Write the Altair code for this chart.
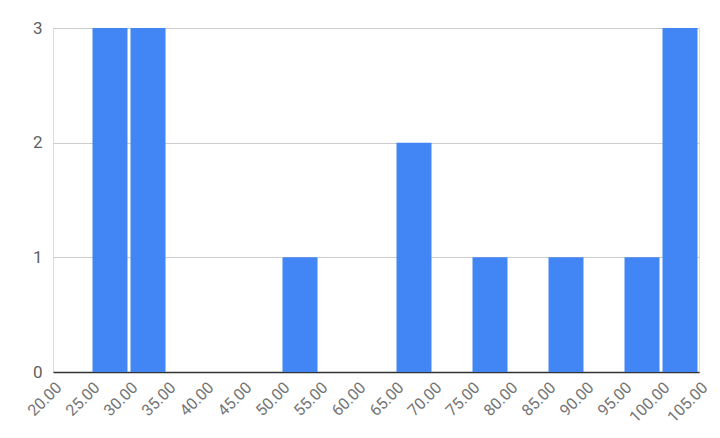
import altair as alt
import pandas as pd

bin_start = [25, 30, 50, 65, 75, 85, 95, 100]
bin_end = [30, 35, 55, 70, 80, 90, 100, 105]
counts = [3, 3, 1, 2, 1, 1, 1, 3]
x_ticks = list(range(20, 106, 5))
y_ticks = [0, 1, 2, 3]

df = pd.DataFrame({"start": bin_start, "end": bin_end, "count": counts})

bars = alt.Chart(df).mark_rect(color="#4285F4", xOffset=1.5, x2Offset=-1.5).encode(
    x=alt.X("start:Q", scale=alt.Scale(domain=[20, 105], nice=False, zero=False),
            axis=alt.Axis(values=x_ticks, format=".2f", labelAngle=-45, title=None,
                          grid=False, ticks=False, domain=True, domainColor="#333333",
                          domainWidth=1.5, labelColor="#757575", labelFont="Roboto",
                          labelFontSize=16, labelPadding=7, labelOverlap=False)),
    x2="end:Q",
    y=alt.Y("count:Q", scale=alt.Scale(domain=[0, 3], nice=False),
            axis=alt.Axis(values=y_ticks, title=None, grid=True, gridColor="#cccccc",
                          ticks=False, domain=False, labelColor="#616161",
                          labelFont="Roboto", labelFontSize=17, labelPadding=11)),
    y2=alt.datum(0),
)

chart = bars.properties(
    width=646, height=344,
    autosize=alt.AutoSizeParams(type="none"),
    padding={"left": 45, "top": 20, "right": 13, "bottom": 60},
).configure_view(stroke=None).configure(background="white")

chart.save("out.html", embed_options={"renderer": "svg", "actions": False})
